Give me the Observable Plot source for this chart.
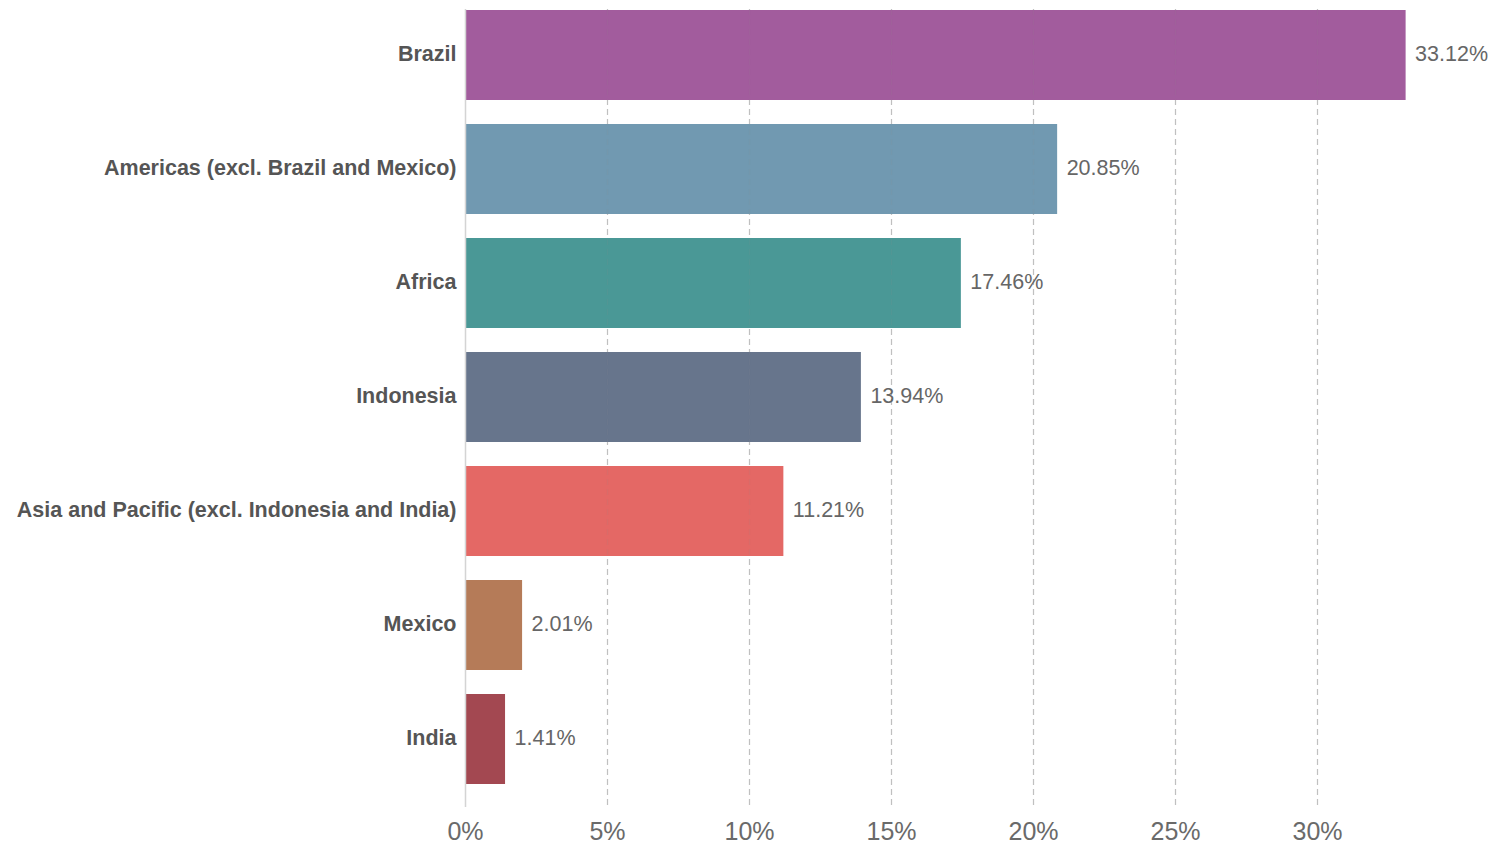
<!DOCTYPE html>
<html>
<head>
<meta charset="utf-8">
<script src="https://cdn.jsdelivr.net/npm/d3@7"></script>
<script src="https://cdn.jsdelivr.net/npm/@observablehq/plot@0.6"></script>
<style>
  html, body { margin: 0; padding: 0; background: #fff; }
  svg { overflow: visible; }
</style>
</head>
<body>
<div id="chart"></div>
<script>
const regions = ["Brazil", "Americas (excl. Brazil and Mexico)", "Africa", "Indonesia", "Asia and Pacific (excl. Indonesia and India)", "Mexico", "India"];
const shares = [33.12, 20.85, 17.46, 13.94, 11.21, 2.01, 1.41];
const colors = ["#a25c9d", "#7199b1", "#4a9896", "#67758c", "#e46865", "#b57b58", "#a34851"];
const xTicks = [0, 5, 10, 15, 20, 25, 30];

const data = regions.map((r, i) => ({region: r, value: shares[i], color: colors[i]}));
const gridTicks = xTicks.filter(d => d > 0);

const chart = Plot.plot({
  width: 1492,
  height: 845,
  marginLeft: 465,
  marginRight: 33,
  marginTop: 9,
  marginBottom: 38,
  style: {fontFamily: "'Liberation Sans', Arial, sans-serif", background: "#fff", overflow: "visible"},
  x: {domain: [0, 35], ticks: xTicks, tickFormat: d => d + "%", label: null},
  y: {domain: regions, range: [9.3, 784.4], paddingInner: 0.21, paddingOuter: 0, label: null},
  marks: [
    Plot.ruleX(gridTicks, {stroke: "#c8c8c8", strokeWidth: 1.2, strokeDasharray: "6,4"}),
    Plot.barX(data, {x: "value", y: "region", fill: "color"}),
    Plot.ruleX(gridTicks, {stroke: "#888", strokeOpacity: 0.12, strokeWidth: 1.2, strokeDasharray: "6,4"}),
    Plot.ruleX([0], {stroke: "#d4d4d4", strokeWidth: 1.5}),
    Plot.text(data, {x: "value", y: "region", text: d => d.value.toFixed(2) + "%", textAnchor: "start", dx: 9, dy: -1, fontSize: 21.5, fill: "#666"}),
    Plot.axisY({tickSize: 0, tickPadding: 9, fontSize: 21.5, fontWeight: "bold", color: "#555", dy: -1, label: null}),
    Plot.axisX({ticks: xTicks, tickFormat: d => d + "%", tickSize: 0, tickPadding: 15, fontSize: 25, color: "#6a6a6a", label: null})
  ]
});
document.getElementById("chart").appendChild(chart);
</script>
</body>
</html>
